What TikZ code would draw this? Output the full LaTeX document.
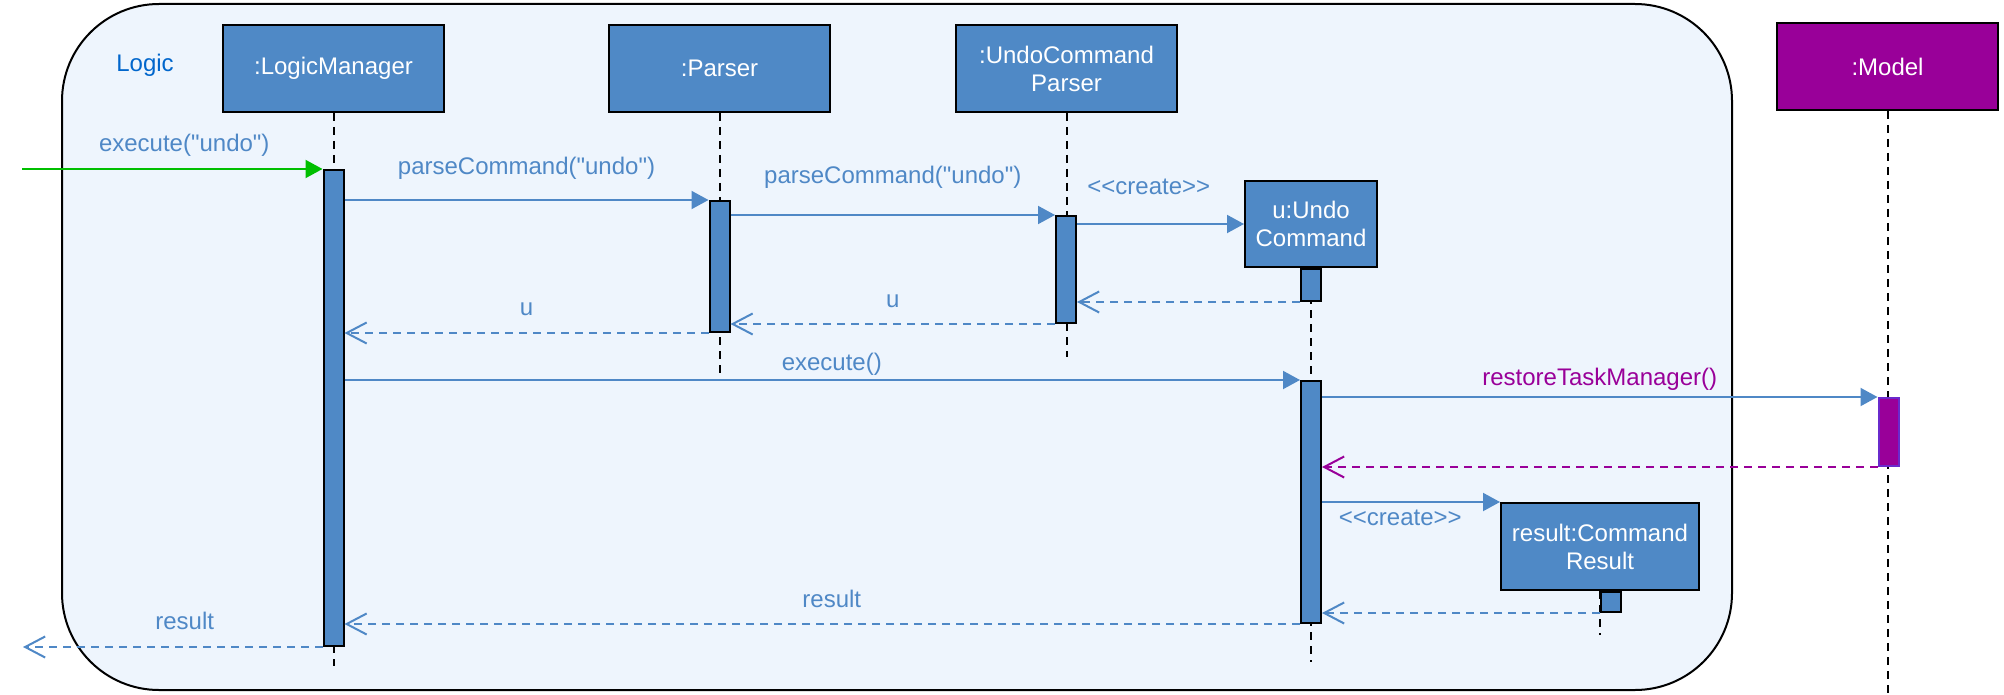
\documentclass[tikz,border=0pt]{standalone}
\usepackage{fontspec}
\setmainfont{Liberation Sans}
\usepackage{tikz}
\usetikzlibrary{arrows.meta}
\definecolor{objblue}{HTML}{4F89C6}
\definecolor{msgblue}{HTML}{4F88C6}
\definecolor{lblue}{HTML}{EEF5FD}
\definecolor{logicblue}{HTML}{0066CC}
\definecolor{mpurple}{HTML}{990099}
\definecolor{mborder}{HTML}{6A2ACC}
\definecolor{fgreen}{HTML}{00BF00}
\newcommand{\qq}[1]{\textquotedbl#1\textquotedbl}

\begin{document}
\begin{tikzpicture}[x=1pt,y=-1pt,font=\fontsize{24}{28}\selectfont]
\tikzstyle{obj}=[rectangle, minimum width=221pt, minimum height=87pt, inner sep=0pt, line width=2pt, draw=black, fill=objblue, text=white, align=center]
\tikzstyle{objm}=[obj, fill=mpurple]
\tikzstyle{act}=[rectangle, minimum width=20pt, inner sep=0pt, line width=2pt, draw=black, fill=objblue]
\tikzstyle{actm}=[act, draw=mborder, fill=mpurple]
\tikzstyle{life}=[line width=2pt, black, dash pattern=on 8pt off 6pt]
\tikzstyle{call}=[line width=2pt, msgblue, -{Triangle[length=17pt,width=18pt]}]
\tikzstyle{found}=[call, fgreen]
\tikzstyle{reply}=[line width=2pt, msgblue, dash pattern=on 8pt off 6pt, -{Straight Barb[length=20pt,width=21pt]}]
\tikzstyle{replym}=[reply, mpurple]
\tikzstyle{lbl}=[text=msgblue, inner sep=0pt, text height=17pt, text depth=5pt]

	\useasboundingbox (0,0) rectangle (2004,695);
	\draw[line width=2pt, fill=lblue, rounded corners=97pt] (62,4) rectangle (1732,690);
	\node[text=logicblue] (logic) at (145,65) {Logic};

	\node[obj] (lm) at (333.5,68.5) {:LogicManager};
	\node[obj] (parser) at (719.5,68.5) {:Parser};
	\node[obj] (ucp) at (1066.5,68.5) {:UndoCommand\\Parser};
	\node[objm] (model) at (1887.5,66.5) {:Model};
	\node[obj, minimum width=132pt, minimum height=86pt] (u) at (1311,224) {u:Undo\\Command};
	\node[obj, minimum width=198pt] (res) at (1600,546.5) {result:Command\\Result};

	\coordinate (lmEnd) at (333.5,666);
	\coordinate (parserEnd) at (719.5,373);
	\coordinate (ucpEnd) at (1066.5,357);
	\coordinate (modelEnd) at (1887.5,695);
	\coordinate (uEnd) at (1311,662);
	\coordinate (resEnd) at (1600,635);

	\path
		(lm) edge[life] (lmEnd)
		(parser) edge[life] (parserEnd)
		(ucp) edge[life] (ucpEnd)
		(model) edge[life] (modelEnd)
		(u) edge[life] (uEnd)
		(res) edge[life] (resEnd);

	\node[act, minimum height=476pt] (actLM) at (333.5,408) {};
	\node[act, minimum height=131pt] (actP) at (719.5,266.5) {};
	\node[act, minimum height=107pt] (actUCP) at (1066,269.5) {};
	\node[act, minimum height=32pt] (actU1) at (1311,285) {};
	\node[act, minimum height=242pt] (actU2) at (1311,502) {};
	\node[actm, minimum height=68pt] (actM) at (1888.5,432) {};
	\node[act, minimum height=20pt] (actR) at (1611,602) {};

	\coordinate (src) at (22,169);
	\coordinate (snk) at (23,646);

	\path
		(src) edge[found] node[lbl, above=11pt, pos=0.54] {execute(\qq{undo})} (actLM.north west)
		(actLM.east |- actP.north) edge[call] node[lbl, above=19pt] {parseCommand(\qq{undo})} (actP.north west)
		(actP.east |- actUCP.north) edge[call] node[lbl, above=25pt] {parseCommand(\qq{undo})} (actUCP.north west)
		(actUCP.east |- u.west) edge[call] node[lbl, above=23pt, pos=0.43] {<{}<create>{}>} (u.west);

	\path
		(actU1.south west) edge[reply] (actUCP.east |- actU1.south west)
		(actUCP.south west) edge[reply] node[lbl, above=11pt] {u} (actP.east |- actUCP.south west)
		(actP.south west) edge[reply] node[lbl, above=12pt] {u} (actLM.east |- actP.south west);

	\path
		(actLM.east |- actU2.north) edge[call] node[lbl, above=4pt, pos=0.51] {execute()} (actU2.north west)
		(actU2.east |- actM.north) edge[call] node[lbl, text=mpurple, above=6pt] {restoreTaskManager()} (actM.north west)
		(actM.south west) edge[replym] (actU2.east |- actM.south west)
		(actU2.east |- res.north west) edge[call] node[lbl, below=5pt, pos=0.44] {<{}<create>{}>} (res.north west)
		(actR.south west) edge[reply] (actU2.east |- actR.south west)
		(actU2.south west) edge[reply] node[lbl, above=11pt, pos=0.49] {result} (actLM.east |- actU2.south west)
		(actLM.south west) edge[reply] node[lbl, above=12pt, pos=0.46] {result} (snk |- actLM.south west);

\end{tikzpicture}
\end{document}
